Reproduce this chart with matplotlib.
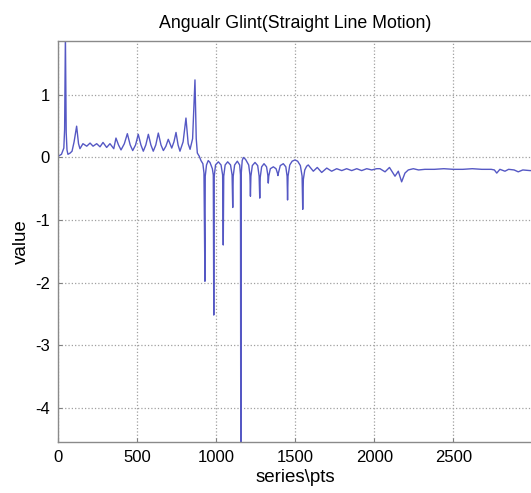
import matplotlib
matplotlib.use("Agg")
import matplotlib.pyplot as plt

# ── Dados (vértices da curva) ────────────────────────────────────────────────

# trecho positivo: pico inicial + ondulações até ~900 pts
x_pos = [0, 20, 35, 40, 45, 50, 55, 61, 75, 87, 100, 116, 128, 137, 156, 180,
         201, 220, 243, 264, 283, 306, 327, 351, 365, 381, 397, 418, 437, 455,
         471, 489, 506, 523, 538, 554, 570, 586, 601, 617, 633, 650, 665, 681,
         696, 707, 718, 732, 745, 758, 770, 790, 808, 822, 834, 850, 865, 873,
         880, 892, 903, 915]
y_pos = [0.02, 0.05, 0.15, 0.45, 1.95, 0.40, 0.12, 0.05, 0.07, 0.10, 0.25,
         0.50, 0.22, 0.14, 0.22, 0.18, 0.23, 0.18, 0.22, 0.17, 0.24, 0.16,
         0.22, 0.14, 0.31, 0.20, 0.12, 0.22, 0.38, 0.20, 0.11, 0.20, 0.37,
         0.20, 0.10, 0.20, 0.37, 0.20, 0.10, 0.20, 0.39, 0.20, 0.11, 0.18,
         0.29, 0.22, 0.15, 0.25, 0.40, 0.20, 0.10, 0.25, 0.63, 0.22, 0.13,
         0.30, 1.24, 0.30, 0.07, 0.02, -0.05, -0.10]

# trecho dos mergulhos negativos (900 .. 1600 pts)
x_neg = [922, 928, 930, 938, 949, 960, 975, 981, 984, 987, 995, 1013, 1030,
         1040, 1044, 1047, 1056, 1072, 1090, 1100, 1104, 1107, 1116, 1133,
         1148, 1153, 1155, 1158, 1164, 1171, 1185, 1205, 1213, 1216, 1219,
         1228, 1245, 1262, 1271, 1275, 1278, 1287, 1302, 1318, 1326, 1329,
         1332, 1342, 1361, 1378, 1387, 1390, 1393, 1405, 1424, 1440, 1448,
         1451, 1454, 1465, 1480, 1498, 1515, 1532, 1543, 1547, 1551, 1560,
         1572, 1582]
y_neg = [-0.25, -1.98, -0.30, -0.12, -0.05, -0.08, -0.18, -0.28, -2.52, -0.30,
         -0.12, -0.07, -0.12, -0.28, -1.40, -0.30, -0.12, -0.07, -0.12, -0.28,
         -0.80, -0.30, -0.12, -0.06, -0.12, -0.28, -5.00, -0.25, -0.05, 0.00,
         -0.03, -0.12, -0.28, -0.62, -0.30, -0.13, -0.08, -0.13, -0.30, -0.65,
         -0.32, -0.15, -0.10, -0.15, -0.28, -0.41, -0.30, -0.18, -0.15, -0.18,
         -0.25, -0.29, -0.25, -0.13, -0.10, -0.15, -0.30, -0.68, -0.30, -0.12,
         -0.06, -0.04, -0.06, -0.13, -0.30, -0.83, -0.35, -0.20, -0.14, -0.12]

# cauda estabilizada (1600 .. 3000 pts)
x_tail = [1614, 1639, 1667, 1699, 1730, 1762, 1794, 1825, 1857, 1889, 1920,
          1952, 1984, 2015, 2036, 2068, 2096, 2131, 2152, 2173, 2194, 2215,
          2247, 2280, 2320, 2380, 2440, 2500, 2560, 2620, 2680, 2740, 2760,
          2775, 2795, 2827, 2850, 2885, 2911, 2940, 2985, 3000]
y_tail = [-0.22, -0.16, -0.24, -0.17, -0.22, -0.18, -0.21, -0.18, -0.21,
          -0.18, -0.21, -0.18, -0.20, -0.18, -0.18, -0.23, -0.16, -0.30,
          -0.22, -0.39, -0.25, -0.20, -0.18, -0.20, -0.19, -0.19, -0.18,
          -0.19, -0.19, -0.18, -0.19, -0.19, -0.20, -0.25, -0.19, -0.22,
          -0.19, -0.20, -0.23, -0.20, -0.21, -0.21]

# o 3000 cai fora da imagem original, só a grade aparece na borda
X_TICKS = [0, 500, 1000, 1500, 2000, 2500]
Y_TICKS = [-4, -3, -2, -1, 0, 1]

# ── Plot ──────────────────────────────────────────────────────────────────────

plt.rcParams.update({
    "font.family": ["Liberation Sans", "DejaVu Sans"],
    "font.size": 12,
    "axes.unicode_minus": False,
    "xtick.direction": "in",
    "ytick.direction": "in",
})

x = x_pos + x_neg + x_tail
y = y_pos + y_neg + y_tail

fig = plt.figure(figsize=(5.31, 4.93), dpi=100)
ax = fig.add_axes([58.3 / 531, 51 / 493, 474 / 531, 401.5 / 493])

ax.plot(x, y, color="#5558c4", linewidth=1.0)

ax.set_xlim(0, 3000)
ax.set_ylim(-4.55, 1.87)
ax.set_xticks(X_TICKS)
ax.set_yticks(Y_TICKS)
ax.tick_params(length=3, color="#808080", pad=6)
ax.grid(True, linestyle=":", color="#a0a0a0", linewidth=0.9)

for s in ax.spines.values():
    s.set_color("#8a8a8a")
    s.set_linewidth(1.0)

ax.set_title("Angualr Glint(Straight Line Motion)", fontsize=12.8, pad=9)
ax.set_xlabel("series\\pts", fontsize=13.5, labelpad=3)
ax.set_ylabel("value", fontsize=13.5, labelpad=4)

fig.savefig("out.png", dpi=100, facecolor="white")
